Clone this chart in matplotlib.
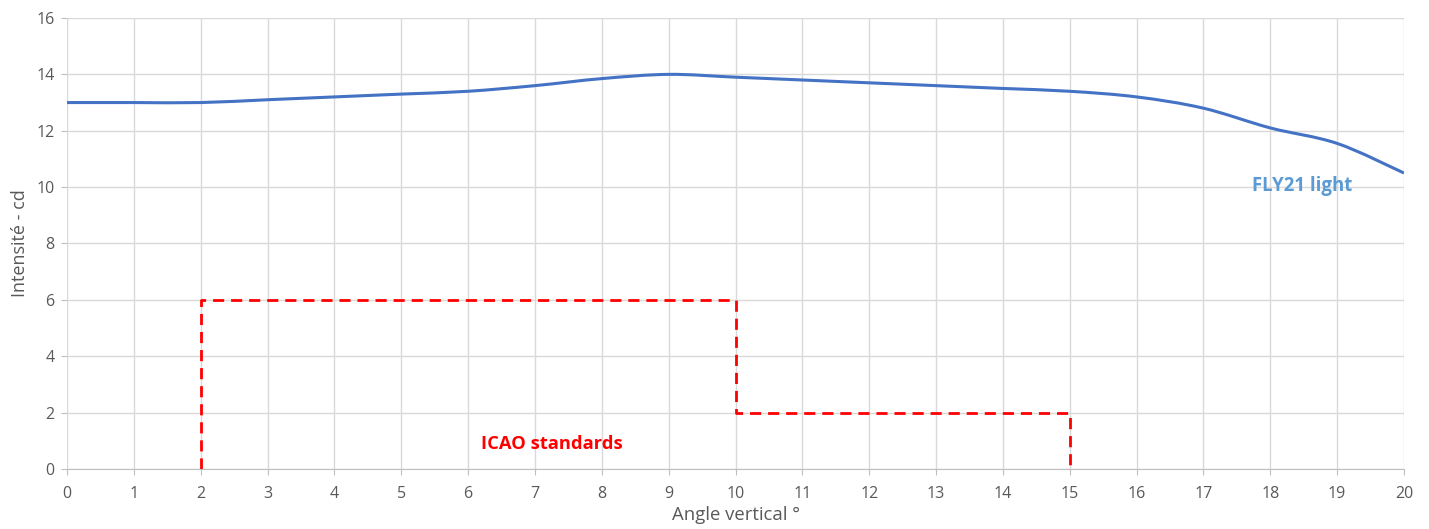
import numpy as np
import matplotlib.pyplot as plt
from matplotlib.path import Path
from matplotlib.patches import PathPatch

# Data
angles = [0, 1, 2, 3, 4, 5, 6, 7, 8, 9, 10, 11, 12, 13, 14, 15, 16, 17, 18, 19, 20]
fly21 = [13.0, 13.0, 13.0, 13.1, 13.2, 13.3, 13.4, 13.6, 13.85, 14.0, 13.9,
         13.8, 13.7, 13.6, 13.5, 13.4, 13.2, 12.8, 12.1, 11.55, 10.5]

icao_x = [2, 2, 10, 10, 15, 15]
icao_y = [0, 6, 6, 2, 2, 0]

plt.rcParams['font.family'] = ['Open Sans', 'DejaVu Sans']

fig = plt.figure(figsize=(14.29, 5.29), dpi=100)
ax = fig.add_axes([0.0469, 0.1134, 0.9356, 0.8526])


def smooth_path(xs, ys, t=1 / 6):
    # Excel style smoothed line: cubic bezier through each point
    verts = [(xs[0], ys[0])]
    codes = [Path.MOVETO]
    n = len(xs)
    for i in range(n - 1):
        x0, y0 = xs[max(i - 1, 0)], ys[max(i - 1, 0)]
        x1, y1 = xs[i], ys[i]
        x2, y2 = xs[i + 1], ys[i + 1]
        x3, y3 = xs[min(i + 2, n - 1)], ys[min(i + 2, n - 1)]
        c1 = (x1 + (x2 - x0) * t, y1 + (y2 - y0) * t)
        c2 = (x2 - (x3 - x1) * t, y2 - (y3 - y1) * t)
        verts += [c1, c2, (x2, y2)]
        codes += [Path.CURVE4] * 3
    return Path(verts, codes)


ax.add_patch(PathPatch(smooth_path(angles, fly21), facecolor='none',
                       edgecolor='#4472C4', lw=2.2, zorder=3))
ax.plot(icao_x, icao_y, color='#FF0000', lw=2, ls=(0, (4, 2.5)), zorder=3)

ax.set_xlim(0, 20)
ax.set_ylim(0, 16)
ax.set_xticks(range(0, 21))
ax.set_yticks(range(0, 17, 2))
ax.grid(True, color='#D9D9D9', lw=1)
ax.set_axisbelow(True)

for s in ['top', 'right', 'left']:
    ax.spines[s].set_visible(False)
ax.spines['bottom'].set_color('#BFBFBF')
ax.tick_params(axis='x', colors='#BFBFBF', labelcolor='#595959', labelsize=11.5,
               length=4, pad=8)
ax.tick_params(axis='y', colors='#BFBFBF', labelcolor='#595959', labelsize=11.5,
               length=4, pad=5)

ax.set_xlabel('Angle vertical °', fontsize=13.3, color='#595959', labelpad=3)
ax.set_ylabel('Intensité - cd', fontsize=13, color='#595959', labelpad=5)

ax.text(6.2, 0.9, 'ICAO standards', color='#FF0000', fontsize=13.2,
        fontweight='bold', va='center')
ax.text(17.73, 10.05, 'FLY21 light', color='#5B9BD5', fontsize=13.4,
        fontweight='bold', va='center')

fig.savefig('out.png', dpi=100)
